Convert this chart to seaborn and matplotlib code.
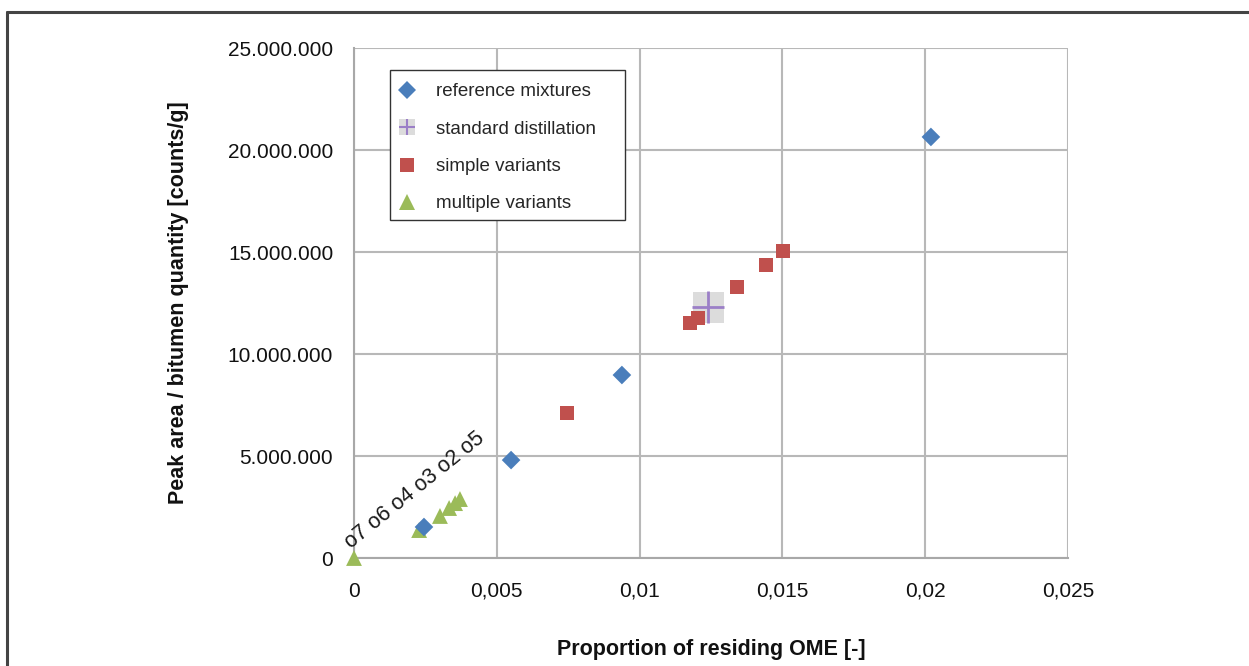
import matplotlib
matplotlib.use("Agg")
import matplotlib.pyplot as plt
import seaborn as sns
import pandas as pd
from matplotlib.lines import Line2D
from matplotlib.patches import Rectangle

# ---- data ----
ref_x = [0.00245, 0.0055, 0.00938, 0.0202]
ref_y = [1520000, 4800000, 8970000, 20640000]

std_x = [0.0124]
std_y = [12300000]

simple_x = [0.00746, 0.01176, 0.01204, 0.01341, 0.01443, 0.01502]
simple_y = [7100000, 11520000, 11760000, 13280000, 14360000, 15050000]

multi_x = [0.0, 0.00228, 0.00301, 0.00333, 0.00354, 0.00371]
multi_y = [0, 1370000, 2060000, 2450000, 2690000, 2890000]

multi_label = "o7 o6 o4 o3 o2 o5"

x_ticks = [0, 0.005, 0.01, 0.015, 0.02, 0.025]
x_ticklabels = ["0", "0,005", "0,01", "0,015", "0,02", "0,025"]
y_ticks = [0, 5000000, 10000000, 15000000, 20000000, 25000000]
y_ticklabels = ["0", "5.000.000", "10.000.000", "15.000.000", "20.000.000", "25.000.000"]

series_names = ["reference mixtures", "standard distillation", "simple variants", "multiple variants"]

# ---- style ----
sns.set_theme(style="white")
plt.rcParams['font.family'] = ['Liberation Sans', 'DejaVu Sans']

BLUE = "#4a7ebb"
RED = "#c0504d"
GREEN = "#9bbb59"
PURPLE = "#9b7fc7"
GRAYBOX = "#dcdcdc"

W, H = 1249, 666
fig = plt.figure(figsize=(W / 100, H / 100), dpi=100)
ax = fig.add_axes([354/W, 108/H, 714/W, 510/H])

ref_df = pd.DataFrame({"x": ref_x, "y": ref_y})
std_df = pd.DataFrame({"x": std_x, "y": std_y})
simple_df = pd.DataFrame({"x": simple_x, "y": simple_y})
multi_df = pd.DataFrame({"x": multi_x, "y": multi_y})

sns.scatterplot(data=std_df, x="x", y="y", ax=ax, marker="s", s=500, color=GRAYBOX,
                edgecolor="none", zorder=3, legend=False)
sns.scatterplot(data=std_df, x="x", y="y", ax=ax, marker="+", s=520, color=PURPLE,
                linewidth=2, zorder=4, legend=False)
sns.scatterplot(data=ref_df, x="x", y="y", ax=ax, marker="D", s=90, color=BLUE,
                edgecolor="none", zorder=5, legend=False)
sns.scatterplot(data=simple_df, x="x", y="y", ax=ax, marker="s", s=110, color=RED,
                edgecolor="none", zorder=5, legend=False)
sns.scatterplot(data=multi_df, x="x", y="y", ax=ax, marker="^", s=130, color=GREEN,
                edgecolor="none", zorder=4, legend=False)
for coll in ax.collections:
    coll.set_clip_on(False)

ax.text(-0.0001, 450000, multi_label, rotation=39, rotation_mode="anchor",
        ha="left", va="baseline", fontsize=15.5, color="#1a1a1a", zorder=6)

ax.set_xlim(0, 0.025)
ax.set_ylim(0, 25000000)
ax.set_xticks(x_ticks)
ax.set_xticklabels(x_ticklabels, fontsize=15)
ax.set_yticks(y_ticks)
ax.set_yticklabels(y_ticklabels, fontsize=15)
ax.tick_params(axis="y", length=8, width=1.2, color="#a0a0a0", direction="out", pad=7,
               labelcolor="#111111")
ax.tick_params(axis="x", length=6, width=1.2, color="#a0a0a0", direction="out", pad=11,
               labelcolor="#111111")
ax.grid(True, color="#b8b8b8", linewidth=1.5)
ax.set_axisbelow(True)
for side in ["top", "right"]:
    ax.spines[side].set_visible(False)
for side in ["left", "bottom"]:
    ax.spines[side].set_color("#a8a8a8")
    ax.spines[side].set_linewidth(1.5)

ax.set_xlabel("Proportion of residing OME [-]", fontsize=15.5, fontweight="bold",
              labelpad=28, color="#111111")
ax.set_ylabel("Peak area / bitumen quantity [counts/g]", fontsize=15.5, fontweight="bold",
              labelpad=28, color="#111111")

h_ref = Line2D([], [], marker="D", color=BLUE, linestyle="none", markersize=9, markeredgewidth=0)
h_std_box = Line2D([], [], marker="s", color=GRAYBOX, linestyle="none", markersize=12, markeredgewidth=0)
h_std_plus = Line2D([], [], marker="+", color=PURPLE, linestyle="none", markersize=12, markeredgewidth=1.5)
h_simple = Line2D([], [], marker="s", color=RED, linestyle="none", markersize=10, markeredgewidth=0)
h_multi = Line2D([], [], marker="^", color=GREEN, linestyle="none", markersize=11, markeredgewidth=0)
leg = ax.legend([h_ref, (h_std_box, h_std_plus), h_simple, h_multi], series_names,
                loc="upper left", bbox_to_anchor=(390/W, 1 - 72/H),
                bbox_transform=fig.transFigure, fontsize=13.5,
                frameon=False, labelspacing=1.08, handletextpad=1.23,
                borderpad=0.6, handlelength=0.65, borderaxespad=0)
ax.add_artist(Rectangle((390/W, 1 - 220/H), 235/W, 150/H, transform=fig.transFigure,
                        facecolor="white", edgecolor="#333333", linewidth=1.0, zorder=6))
leg.set_zorder(7)

# figure frame lines (left & top)
fig.add_artist(Line2D([6.5/W, 6.5/W], [0, 1 - 11.5/H], transform=fig.transFigure,
                      color="#444444", linewidth=2.2))
fig.add_artist(Line2D([6.5/W, 1], [1 - 11.5/H, 1 - 11.5/H], transform=fig.transFigure,
                      color="#444444", linewidth=2.2))

fig.savefig("out.png", dpi=100)
